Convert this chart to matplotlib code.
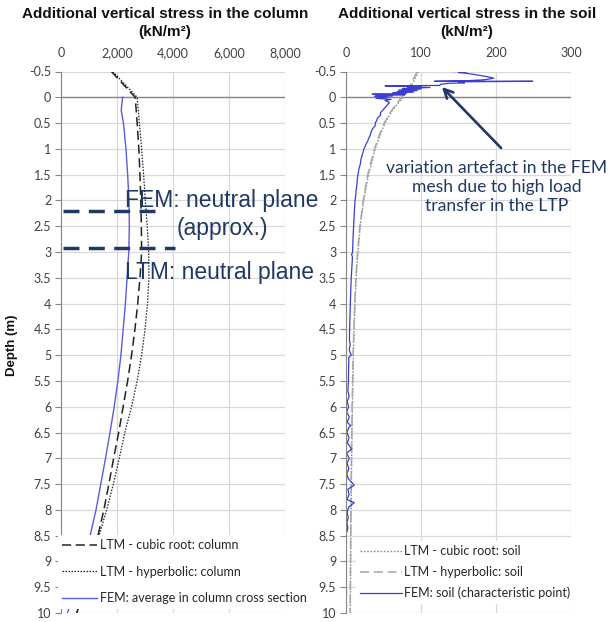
import matplotlib
matplotlib.use('Agg')
import matplotlib.pyplot as plt

# ---------------- data ----------------
col_depth = [-0.5, 0, 0.5, 1, 1.5, 2, 2.5, 3, 3.5, 4, 4.5, 5, 5.5, 6, 6.5, 7, 7.5, 8, 8.5, 9, 9.5, 10]
ltm_cubic_col = [1800, 2650, 2720, 2780, 2820, 2850, 2870, 2880, 2820, 2740, 2640, 2520, 2380, 2220,
                 2060, 1880, 1710, 1530, 1320, 1100, 850, 560]
ltm_hyper_col = [1850, 2720, 2800, 2880, 2950, 3010, 3080, 3130, 3140, 3090, 3000, 2880, 2720, 2520,
                 2280, 2080, 1870, 1630, 1360, 1100, 830, 580]
fem_col_depth = [0, 0.25, 0.5, 1, 1.5, 2, 2.5, 3, 3.5, 4, 4.5, 5, 5.5, 6, 6.5, 7, 7.5, 8, 8.5, 9, 9.5, 10]
fem_col = [2200, 2150, 2230, 2320, 2380, 2430, 2440, 2420, 2360, 2300, 2220, 2140, 2030, 1900,
           1750, 1590, 1420, 1250, 1040, 800, 530, 230]

soil_depth = [-0.5, -0.25, 0, 0.25, 0.5, 0.75, 1, 1.5, 2, 2.5, 3, 3.5, 4, 4.5, 5, 6, 7, 8, 9, 10]
ltm_cubic_soil = [97, 88, 76, 62, 52, 45, 39, 30, 23.5, 19, 16, 13.5, 12, 10.8, 9.8, 8.5, 7.5, 6.8, 6.2, 5.7]
ltm_hyper_soil = [95, 86, 74, 61, 51, 44, 38, 29, 23, 18.5, 15.5, 13.2, 11.7, 10.5, 9.5, 8.2, 7.3, 6.6, 6.0, 5.5]

fem_soil_depth = [-0.50, -0.50, -0.48, -0.47, -0.44, -0.40, -0.37, -0.34, -0.32, -0.31, -0.31, -0.30,
                  -0.28, -0.27, -0.25, -0.23, -0.22, -0.21, -0.20, -0.19, -0.17, -0.16, -0.14, -0.13,
                  -0.11, -0.10, -0.08, -0.07, -0.06, -0.05, -0.04, -0.03, -0.02, 0.00, 0.02, 0.04,
                  0.06, 0.10, 0.15, 0.20, 0.25, 0.30, 0.35, 0.40, 0.45, 0.50, 0.55, 0.60, 0.65, 0.70,
                  0.75, 0.80, 0.85, 0.90, 1.00, 1.10, 1.20, 1.30, 1.40, 1.50, 1.60, 1.70, 1.80, 1.90,
                  2.00, 2.20, 2.40, 2.60, 2.80, 3.00, 3.05, 3.10, 3.30, 3.50, 3.70, 3.90, 4.10, 4.30,
                  4.50, 4.70, 4.80, 4.90, 5.00, 5.05, 5.10, 5.30, 5.50, 5.70, 5.80, 5.90, 6.00, 6.10,
                  6.20, 6.30, 6.37, 6.40, 6.50, 6.60, 6.70, 6.82, 6.90, 7.00, 7.10, 7.20, 7.30, 7.40,
                  7.52, 7.60, 7.70, 7.80, 7.86, 7.95, 8.05, 8.15, 8.25, 8.35, 8.42]
fem_soil = [142, 162, 150, 158, 172, 188, 197, 185, 160, 118, 249, 150,
            158, 135, 126, 125, 52, 100, 82, 112, 75, 100, 70, 95,
            68, 90, 62, 80, 35, 78, 40, 62, 38, 55, 40, 60,
            52, 58, 55, 52, 49, 46, 46, 42, 41, 39, 39, 36, 34, 33,
            32, 30, 29, 27, 24, 22, 20, 19, 17, 16, 15, 14.5, 13.5, 13,
            12, 11.2, 10.5, 9.8, 9.2, 8.8, 7.5, 8.6, 7.8, 7, 6.5, 6, 5.6, 5.2,
            4.8, 4.6, 5.5, 4.3, 7, 3.5, 3.8, 3.4, 3.2, 2.5, 4.2, 1.5, 3.5, 0.8,
            4.5, 1.5, 6.5, 3.8, 1.2, 4, 1.8, 7.5, 0.8, 4.2, 1.5, 3.8, 1, 3.2,
            11, 2.5, 4, 1.5, 11, 3.5, 1.5, 3, 1.2, 2.5, 1.5]

col_xticks = [0, 2000, 4000, 6000, 8000]
col_xlabels = ['0', '2,000', '4,000', '6,000', '8,000']
soil_xticks = [0, 100, 200, 300]
soil_xlabels = ['0', '100', '200', '300']
depth_ticks = [i * 0.5 - 0.5 for i in range(22)]
depth_labels = ['%g' % v for v in depth_ticks]

fem_neutral = 2.2
ltm_neutral = 2.92

# ---------------- figure ----------------
W, H = 609, 622
fig = plt.figure(figsize=(W / 100, H / 100), dpi=100)

def rect(x0, y0, x1, y1):
    return [x0 / W, 1 - y1 / H, (x1 - x0) / W, (y1 - y0) / H]

axL = fig.add_axes(rect(61, 71.5, 285, 613))
axR = fig.add_axes(rect(346, 71.5, 571, 613))

tick_font = dict(family='Lato', size=9, color='#404040')
grid_c = '#d9d9d9'
axis_c = '#868686'

for ax, xt, xl, xmax in ((axL, col_xticks, col_xlabels, 8000), (axR, soil_xticks, soil_xlabels, 300)):
    ax.set_xlim(0, xmax)
    ax.set_ylim(10, -0.5)
    ax.set_xticks(xt)
    ax.set_xticklabels(xl, fontdict=tick_font)
    ax.set_yticks(depth_ticks)
    ax.set_yticklabels(depth_labels, fontdict=tick_font)
    ax.xaxis.tick_top()
    ax.tick_params(axis='x', length=0, pad=9)
    ax.tick_params(axis='y', length=4, color=axis_c, pad=3, direction='out')
    for s in ('top', 'right', 'bottom'):
        ax.spines[s].set_visible(False)
    ax.spines['left'].set_color(axis_c)
    ax.grid(True, color=grid_c, lw=0.9)
    ax.set_axisbelow(True)
    ax.axhline(0, color=axis_c, lw=1.0, zorder=1.5)

# left panel lines
axL.plot(ltm_cubic_col, col_depth, color='#222222', lw=1.1, dashes=(6, 3), label='LTM - cubic root: column')
axL.plot(ltm_hyper_col, col_depth, color='#222222', lw=0.9, dashes=(1.2, 1.2), label='LTM - hyperbolic: column')
axL.plot(fem_col, fem_col_depth, color='#5a5ae6', lw=1.0, label='FEM: average in column cross section')

navy = '#1f3864'
axL.plot([70, 3360], [fem_neutral, fem_neutral], color=navy, lw=2.5, dashes=(4.6, 2.7), zorder=4)
axL.plot([70, 4070], [ltm_neutral, ltm_neutral], color=navy, lw=2.5, dashes=(4.6, 2.7), zorder=4)

# right panel lines
axR.plot(ltm_cubic_soil, soil_depth, color='#8c8c8c', lw=1.0, dashes=(1.2, 1.2), label='LTM - cubic root: soil')
axR.plot(ltm_hyper_soil, soil_depth, color='#a6a6a6', lw=1.1, dashes=(6, 3), label='LTM - hyperbolic: soil')
axR.plot(fem_soil, fem_soil_depth, color='#3c3cd2', lw=0.9, label='FEM: soil (characteristic point)')

# titles
title_font = dict(family='Liberation Sans', weight='bold', size=11, color='#111111', ha='center', va='center')
fig.text(165 / W, 1 - 14 / H, 'Additional vertical stress in the column', **title_font)
fig.text(165 / W, 1 - 32 / H, '(kN/m²)', **title_font)
fig.text(467 / W, 1 - 14 / H, 'Additional vertical stress in the soil', **title_font)
fig.text(467 / W, 1 - 32 / H, '(kN/m²)', **title_font)

fig.text(12 / W, 1 - 345 / H, 'Depth (m)', rotation=90, family='Liberation Sans', weight='bold',
         size=9.5, ha='center', va='center', color='#111111')

# neutral plane annotations
ann_font = dict(family='Liberation Sans', size=16.5, color=navy, va='center')
fig.text(125 / W, 1 - 201 / H, 'FEM: neutral plane', ha='left', **ann_font)
fig.text(222 / W, 1 - 228 / H, '(approx.)', ha='center', **ann_font)
fig.text(125 / W, 1 - 272 / H, 'LTM: neutral plane', ha='left', **ann_font)

# artefact annotation
fig.text(497 / W, 1 - 187 / H, 'variation artefact in the FEM\nmesh due to high load\ntransfer in the LTP',
         family='Lato', size=12.6, color=navy, ha='center', va='center', linespacing=1.2)
axR.annotate('', xy=(440, H - 85), xycoords='figure pixels', xytext=(503, H - 150),
             textcoords='figure pixels',
             arrowprops=dict(arrowstyle='->', color=navy, lw=1.9, mutation_scale=16))

# legends
hL, lL = axL.get_legend_handles_labels()
fig.legend(hL, lL, loc='upper left', bbox_to_anchor=(58 / W, 1 - 535 / H), frameon=True,
           facecolor='white', edgecolor='none', framealpha=1, borderaxespad=0, borderpad=0.35,
           prop=dict(family='Lato', size=9), labelcolor='#262626', handlelength=2.8,
           handletextpad=0.2, labelspacing=1.15, fancybox=False)
hR, lR = axR.get_legend_handles_labels()
fig.legend(hR, lR, loc='upper left', bbox_to_anchor=(356 / W, 1 - 541 / H), frameon=True,
           facecolor='white', edgecolor='none', framealpha=1, borderaxespad=0, borderpad=0.35,
           prop=dict(family='Lato', size=9), labelcolor='#262626', handlelength=3.3,
           handletextpad=0.2, labelspacing=0.7, fancybox=False)

fig.savefig('out.png', dpi=100, facecolor='white')
